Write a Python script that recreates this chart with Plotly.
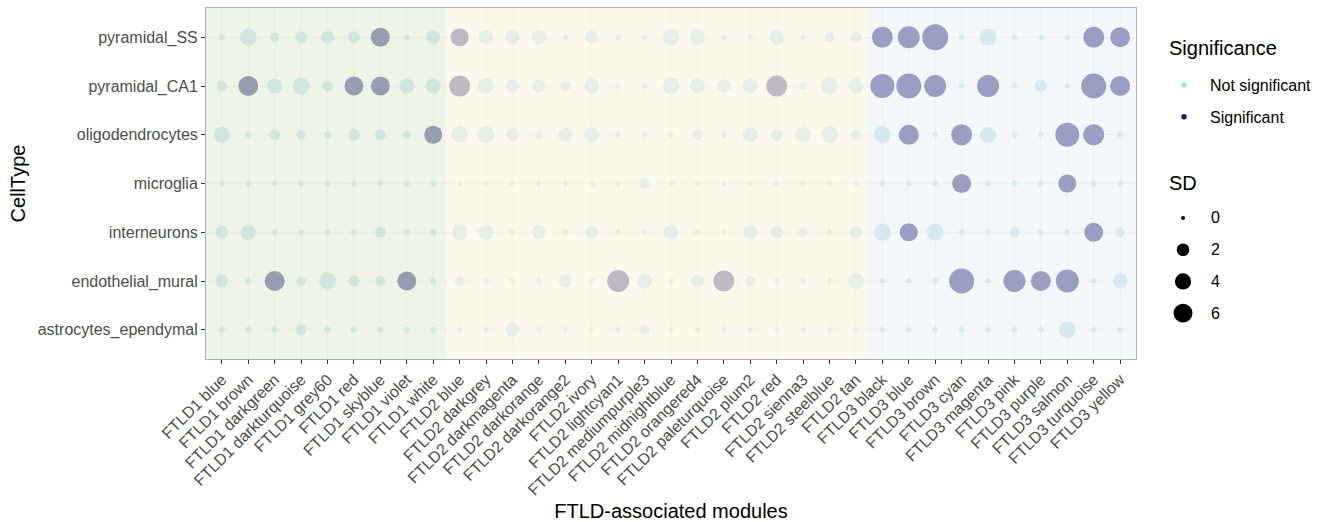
import numpy as np
import plotly.graph_objects as go

# ---------------- data ----------------
modules = [
    "FTLD1 blue", "FTLD1 brown", "FTLD1 darkgreen", "FTLD1 darkturquoise", "FTLD1 grey60",
    "FTLD1 red", "FTLD1 skyblue", "FTLD1 violet", "FTLD1 white",
    "FTLD2 blue", "FTLD2 darkgrey", "FTLD2 darkmagenta", "FTLD2 darkorange", "FTLD2 darkorange2",
    "FTLD2 ivory", "FTLD2 lightcyan1", "FTLD2 mediumpurple3", "FTLD2 midnightblue",
    "FTLD2 orangered4", "FTLD2 paleturquoise", "FTLD2 plum2", "FTLD2 red", "FTLD2 sienna3",
    "FTLD2 steelblue", "FTLD2 tan",
    "FTLD3 black", "FTLD3 blue", "FTLD3 brown", "FTLD3 cyan", "FTLD3 magenta", "FTLD3 pink",
    "FTLD3 purple", "FTLD3 salmon", "FTLD3 turquoise", "FTLD3 yellow",
]

cell_types = ["astrocytes_ependymal", "endothelial_mural", "interneurons", "microglia",
              "oligodendrocytes", "pyramidal_CA1", "pyramidal_SS"]

sd_pyramidal_SS = [0.1, 4.5, 0.7, 1.7, 2.2, 1.7, 6.0, 0.05, 2.7,
                   5.3, 2.7, 3.3, 2.7, 0.05, 2.2, 0.05, 0.05, 4.5, 3.3, 0.05, 0.05, 3.3, 0.05, 1.0, 1.3,
                   7.8, 8.7, 13.0, 0.05, 4.5, 0.05, 0.05, 0.05, 7.8, 6.9]
sd_pyramidal_CA1 = [1.0, 6.9, 3.3, 4.5, 1.3, 6.0, 6.0, 3.3, 3.3,
                    7.8, 3.9, 2.2, 2.2, 1.0, 3.3, 0.05, 0.05, 4.5, 3.3, 2.2, 3.3, 7.8, 0.25, 4.5, 3.3,
                    10.8, 11.9, 8.7, 0.05, 8.7, 0.05, 1.7, 0.05, 11.9, 6.9]
sd_oligodendrocytes = [3.9, 0.1, 1.3, 0.7, 0.25, 1.7, 1.3, 0.4, 5.3,
                       4.5, 4.5, 2.2, 0.25, 2.7, 3.3, 0.05, 0.05, 0.1, 1.3, 0.1, 3.3, 1.7, 3.3, 4.5, 1.0,
                       4.5, 6.9, 0.05, 7.8, 3.9, 0.05, 0.05, 10.8, 7.8, 0.05]
sd_microglia = [0.05, 0.05, 0.05, 0.05, 0.05, 0.05, 0.05, 0.05, 0.05,
                0.05, 0.05, 0.05, 0.05, 0.05, 0.05, 0.05, 1.3, 0.05, 0.05, 0.05, 0.05, 0.05, 0.05, 0.05, 0.05,
                0.05, 0.05, 0.05, 6.0, 0.05, 0.05, 0.1, 5.3, 0.05, 0.05]
sd_interneurons = [2.2, 3.3, 0.1, 0.1, 0.1, 0.1, 1.3, 0.1, 0.25,
                   3.9, 3.3, 0.1, 2.7, 0.1, 2.2, 0.05, 0.05, 3.3, 0.1, 0.1, 2.7, 2.2, 0.7, 0.1, 2.2,
                   4.5, 5.3, 4.5, 0.05, 0.05, 1.0, 0.05, 0.05, 6.0, 0.7]
sd_endothelial_mural = [2.2, 0.1, 6.9, 0.7, 4.5, 1.3, 1.0, 6.0, 0.1,
                        1.0, 0.1, 0.1, 0.1, 2.2, 0.1, 8.7, 3.3, 0.1, 2.2, 7.8, 1.0, 0.05, 0.05, 0.05, 3.9,
                        0.05, 0.05, 0.05, 11.9, 0.05, 8.7, 6.9, 9.7, 0.05, 3.3]
sd_astrocytes_ependymal = [0.1, 0.1, 0.1, 1.3, 0.1, 0.1, 0.1, 0.1, 0.1,
                           0.05, 0.05, 2.7, 0.05, 0.05, 0.05, 0.05, 1.0, 0.05, 0.05, 0.05, 0.05, 0.05, 0.05, 0.05, 0.05,
                           0.05, 0.05, 0.05, 0.05, 0.05, 0.05, 0.05, 4.5, 0.05, 0.05]

sig_pyramidal_SS = [0, 0, 0, 0, 0, 0, 1, 0, 0,
                    1, 0, 0, 0, 0, 0, 0, 0, 0, 0, 0, 0, 0, 0, 0, 0,
                    1, 1, 1, 0, 0, 0, 0, 0, 1, 1]
sig_pyramidal_CA1 = [0, 1, 0, 0, 0, 1, 1, 0, 0,
                     1, 0, 0, 0, 0, 0, 0, 0, 0, 0, 0, 0, 1, 0, 0, 0,
                     1, 1, 1, 0, 1, 0, 0, 0, 1, 1]
sig_oligodendrocytes = [0, 0, 0, 0, 0, 0, 0, 0, 1,
                        0, 0, 0, 0, 0, 0, 0, 0, 0, 0, 0, 0, 0, 0, 0, 0,
                        0, 1, 0, 1, 0, 0, 0, 1, 1, 0]
sig_microglia = [0, 0, 0, 0, 0, 0, 0, 0, 0,
                 0, 0, 0, 0, 0, 0, 0, 0, 0, 0, 0, 0, 0, 0, 0, 0,
                 0, 0, 0, 1, 0, 0, 0, 1, 0, 0]
sig_interneurons = [0, 0, 0, 0, 0, 0, 0, 0, 0,
                    0, 0, 0, 0, 0, 0, 0, 0, 0, 0, 0, 0, 0, 0, 0, 0,
                    0, 1, 0, 0, 0, 0, 0, 0, 1, 0]
sig_endothelial_mural = [0, 0, 1, 0, 0, 0, 0, 1, 0,
                         0, 0, 0, 0, 0, 0, 1, 0, 0, 0, 1, 0, 0, 0, 0, 0,
                         0, 0, 0, 1, 0, 1, 1, 1, 0, 0]
sig_astrocytes_ependymal = [0, 0, 0, 0, 0, 0, 0, 0, 0,
                            0, 0, 0, 0, 0, 0, 0, 0, 0, 0, 0, 0, 0, 0, 0, 0,
                            0, 0, 0, 0, 0, 0, 0, 0, 0, 0]

sd_legend_breaks = [0, 2, 4, 6]
sig_labels = ["Not significant", "Significant"]

# ---------------- scales / styling ----------------
FONT = "Liberation Sans, Arial, Helvetica, sans-serif"
sig_colors = {"Not significant": "#ADD8E6", "Significant": "#191970"}


def size_scale(sd):
    return 4 + 6.1 * np.sqrt(np.asarray(sd, dtype=float))


sd_by_cell = {
    "astrocytes_ependymal": sd_astrocytes_ependymal,
    "endothelial_mural": sd_endothelial_mural,
    "interneurons": sd_interneurons,
    "microglia": sd_microglia,
    "oligodendrocytes": sd_oligodendrocytes,
    "pyramidal_CA1": sd_pyramidal_CA1,
    "pyramidal_SS": sd_pyramidal_SS,
}
sig_by_cell = {
    "astrocytes_ependymal": sig_astrocytes_ependymal,
    "endothelial_mural": sig_endothelial_mural,
    "interneurons": sig_interneurons,
    "microglia": sig_microglia,
    "oligodendrocytes": sig_oligodendrocytes,
    "pyramidal_CA1": sig_pyramidal_CA1,
    "pyramidal_SS": sig_pyramidal_SS,
}

# long format
xs, ys, sds, sigs = [], [], [], []
for ct in cell_types:
    for m, sd, sg in zip(modules, sd_by_cell[ct], sig_by_cell[ct]):
        xs.append(m)
        ys.append(ct)
        sds.append(sd)
        sigs.append(sig_labels[sg])

fig = go.Figure()

for lab in sig_labels:
    idx = [i for i, s in enumerate(sigs) if s == lab]
    fig.add_trace(go.Scatter(
        x=[xs[i] for i in idx], y=[ys[i] for i in idx], mode="markers",
        marker=dict(size=size_scale([sds[i] for i in idx]), color=sig_colors[lab],
                    line=dict(width=0), opacity=1),
        name=lab, showlegend=False,
        hovertemplate="%{x}<br>%{y}<extra>" + lab + "</extra>",
    ))

# legend entries for significance
for k, lab in enumerate(sig_labels):
    fig.add_trace(go.Scatter(
        x=[None], y=[None], mode="markers",
        marker=dict(size=5.5, color=sig_colors[lab], line=dict(width=0)),
        name=lab, legendgroup=lab, showlegend=True,
    ))

# SD size legend drawn on an auxiliary axis pair
fig.add_trace(go.Scatter(
    x=[0] * len(sd_legend_breaks), y=sd_legend_breaks, mode="markers",
    marker=dict(size=size_scale(sd_legend_breaks), color="#000000", opacity=1,
                line=dict(width=0)),
    opacity=1,
    xaxis="x2", yaxis="y2", showlegend=False, hoverinfo="skip",
))
for b in sd_legend_breaks:
    fig.add_annotation(x=2.0, y=b, xref="x2", yref="y2", text=str(b), showarrow=False,
                       xanchor="left", yanchor="middle",
                       font=dict(family=FONT, size=16, color="black"))

# legend titles
fig.add_annotation(x=(1167 - 206) / 1110, y=(359 - 183) / 351, xref="paper", yref="paper",
                   text="SD", showarrow=False, xanchor="left", yanchor="middle",
                   font=dict(family=FONT, size=20, color="black"))
fig.add_annotation(x=(1167 - 206) / 1110, y=(359 - 48) / 351, xref="paper", yref="paper",
                   text="Significance", showarrow=False, xanchor="left", yanchor="middle",
                   font=dict(family=FONT, size=20, color="black"))

# group background panels (drawn above points, semi-transparent, like the original)
first_ftld2 = modules.index("FTLD2 blue")
first_ftld3 = modules.index("FTLD3 black")
panels = [
    (-0.6, first_ftld2 - 0.5, "#E4EFDA", 0.62),
    (first_ftld2 - 0.5, first_ftld3 - 0.6, "#FEF7E6", 0.72),
    (first_ftld3 - 0.6, len(modules) - 0.4, "#EDF3F8", 0.61),
]
for x0, x1, col, op in panels:
    fig.add_shape(type="rect", xref="x", yref="y domain", x0=x0, x1=x1, y0=0, y1=1,
                  fillcolor=col, opacity=op, line=dict(width=0), layer="above")

axis_common = dict(
    showgrid=True, gridcolor="#EBEBEB", gridwidth=1,
    ticks="outside", ticklen=4, tickcolor="#333333", tickwidth=1,
    showline=True, linecolor="#AEB3AC", linewidth=1, mirror=True,
    tickfont=dict(family=FONT, size=16, color="#4D4D4D"),
    zeroline=False,
)

fig.update_layout(
    width=1326, height=522,
    margin=dict(l=206, r=10, t=8, b=163),
    paper_bgcolor="white", plot_bgcolor="white",
    font=dict(family=FONT, color="black"),
    xaxis=dict(
        type="category", categoryorder="array", categoryarray=modules,
        range=[-0.6, len(modules) - 0.4], domain=[0, 930 / 1110],
        tickangle=-45,
        title=dict(text="FTLD-associated modules", font=dict(family=FONT, size=20, color="black"),
                   standoff=14),
        automargin=False,
        **axis_common,
    ),
    yaxis=dict(
        type="category", categoryorder="array", categoryarray=cell_types,
        range=[-0.6, len(cell_types) - 0.4],
        title=dict(text="CellType", font=dict(family=FONT, size=20, color="black"), standoff=6),
        automargin=False,
        **axis_common,
    ),
    xaxis2=dict(domain=[(1170 - 206) / 1110, (1260 - 206) / 1110], range=[-1, 5.923],
                anchor="y2", visible=False, fixedrange=True),
    yaxis2=dict(domain=[(359 - 328.95) / 351, (359 - 202.15) / 351], range=[7, -1],
                anchor="x2", visible=False, fixedrange=True),
    legend=dict(
        font=dict(family=FONT, size=16, color="black"),
        x=(1158 - 206) / 1110, y=(359 - 68) / 351, xanchor="left", yanchor="top",
        bgcolor="rgba(0,0,0,0)", borderwidth=0, tracegroupgap=8, itemsizing="trace",
        itemwidth=42,
    ),
    hovermode="closest",
)

fig.write_html("out.html")
